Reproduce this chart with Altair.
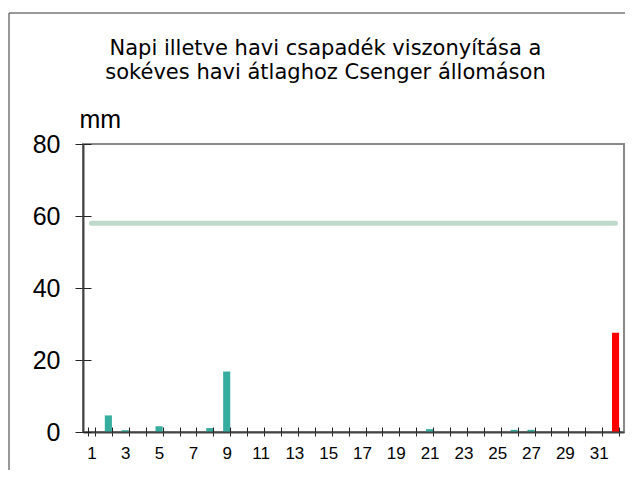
import altair as alt
import pandas as pd

# ---- data ----
days = list(range(1, 33))          # 1..31 daily, 32 = monthly total
daily_mm = [0, 4.6, 0.5, 0, 1.6, 0, 0, 1.1, 16.8, 0,
            0, 0, 0, 0, 0, 0, 0, 0, 0, 0,
            0.8, 0, 0, 0, 0, 0.6, 0.6, 0, 0, 0,
            0]
monthly_total = 27.6
longterm_avg = 58
title_lines = ["Napi illetve havi csapadék viszonyítása a",
               "sokéves havi átlaghoz Csenger állomáson"]
y_ticks = [0, 20, 40, 60, 80]

values = daily_mm + [monthly_total]
kind = ["napi"] * 31 + ["havi"]
bars_df = pd.DataFrame({"day": days, "mm": values, "kind": kind})
avg_df = pd.DataFrame({"day": [days[0], days[-1]], "mm": [longterm_avg] * 2})
frame_df = pd.DataFrame({"k": [0]})

W, H = 541, 288
PAD = {"left": 75, "top": 136, "right": 1, "bottom": 38}

xscale = alt.Scale(domain=days, paddingInner=0.58, paddingOuter=0.29)
yscale = alt.Scale(domain=[0, 80])
FONT = "Liberation Sans"

x_main = alt.Axis(
    title=None, labelExpr="datum.value % 2 == 1 && datum.value < 32 ? datum.label : ''",
    labelAngle=0, labelFont=FONT, labelFontSize=17, labelColor="#000000",
    labelPadding=9, tickBand="extent", tickSize=4, tickColor="#222222",
    tickWidth=1, domainColor="#444444", domainWidth=2, labelOverlap=False,
    zindex=1, orient="bottom")
y_main = alt.Axis(
    title="mm", titleAngle=0, titleAlign="left", titleBaseline="alphabetic",
    titleX=-4, titleY=-17, titleFont=FONT, titleFontSize=25,
    titleFontWeight="normal", titleColor="#000000",
    values=y_ticks, labelFont=FONT, labelFontSize=25, labelColor="#000000",
    labelPadding=15, tickSize=8, tickColor="#222222", tickWidth=1,
    domainColor="#444444", domainWidth=2, grid=False, zindex=1, orient="left")

bars = alt.Chart(bars_df).mark_bar().encode(
    x=alt.X("day:O", scale=xscale, axis=x_main, sort=days),
    y=alt.Y("mm:Q", scale=yscale, axis=y_main),
    color=alt.Color("kind:N", scale=alt.Scale(domain=["napi", "havi"],
                                              range=["#35ad9f", "#ff0000"]),
                    legend=None),
)

x_inner = alt.Axis(title=None, labels=False, domain=False, tickBand="extent",
                   tickSize=5, tickColor="#222222", tickWidth=1, offset=-5,
                   grid=False, zindex=1, orient="bottom")
y_inner = alt.Axis(title=None, labels=False, domain=False, values=y_ticks,
                   tickSize=8, tickColor="#222222", tickWidth=1, offset=-8,
                   grid=False, zindex=1, orient="left")

avg = alt.Chart(avg_df).mark_line(color="#bfd9ca", strokeWidth=5,
                                  strokeCap="round").encode(
    x=alt.X("day:O", scale=xscale, axis=x_inner, sort=days),
    y=alt.Y("mm:Q", scale=yscale, axis=y_inner),
)

top_line = alt.Chart(frame_df).mark_rule(color="#333333", strokeWidth=1).encode(
    x=alt.value(-74), x2=alt.value(W + 10), y=alt.value(-131))
left_line = alt.Chart(frame_df).mark_rule(color="#333333", strokeWidth=1).encode(
    x=alt.value(-74), y=alt.value(-131), y2=alt.value(H + 60))

chart = alt.layer(bars, avg, top_line, left_line).resolve_axis(
    x="independent", y="independent"
).properties(
    width=W, height=H,
    autosize=alt.AutoSizeParams(type="none"),
    padding=PAD,
    title=alt.TitleParams(text=title_lines, font="DejaVu Sans", fontSize=21,
                          fontWeight="normal", color="#000000",
                          anchor="middle", dx=-28, dy=74, lineHeight=24),
).configure_view(stroke="#888888", strokeWidth=2)

chart.save("out.html", embed_options={"renderer": "svg", "actions": False})
